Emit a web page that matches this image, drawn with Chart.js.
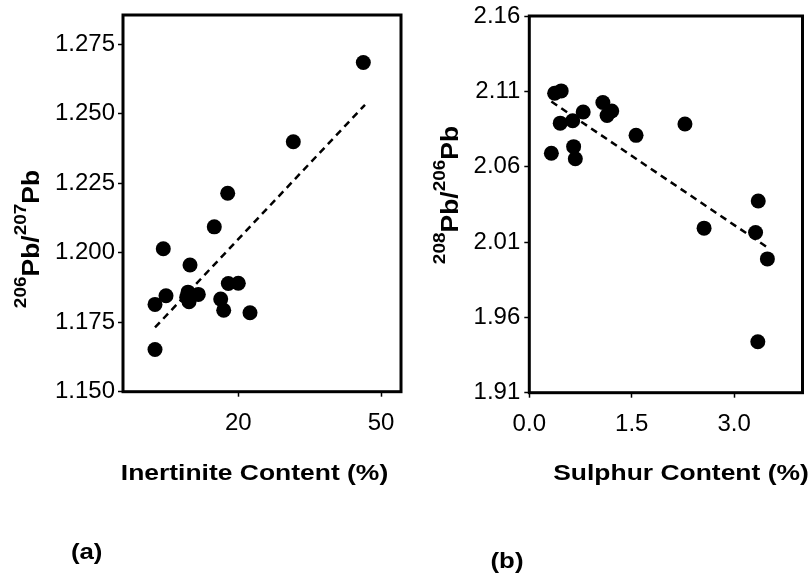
<!DOCTYPE html>
<html>
<head>
<meta charset="utf-8">
<script src="https://cdn.jsdelivr.net/npm/chart.js@4.4.1/dist/chart.umd.min.js"></script>
<style>
  html, body { margin: 0; padding: 0; background: #fff; }
  #wrap { position: relative; width: 810px; height: 574px; overflow: hidden; }
  canvas { position: absolute; top: 0; }
  #cA { left: 0; }
  #cB { left: 430px; }
</style>
</head>
<body>
<div id="wrap">
  <canvas id="cA" width="430" height="574"></canvas>
  <canvas id="cB" width="380" height="574"></canvas>
</div>
<script>
// ---------- DATA ----------
// (a) Inertinite content (%) vs 206Pb/207Pb
const inertinite = [46.28, 31.56, 17.77, 14.95, 4.23, 9.85, 17.90, 20.00, 4.80, 2.49, 9.43, 11.59, 9.15, 9.64, 16.30, 16.93, 22.46, 2.49];
const pb206_207  = [1.2684, 1.2399, 1.2214, 1.2093, 1.2014, 1.1956, 1.1889, 1.1890, 1.1845, 1.1814, 1.1858, 1.1850, 1.1840, 1.1824, 1.1833, 1.1793, 1.1784, 1.1652];
const trendA_x = [2.49, 46.63];
const trendA_y = [1.1731, 1.2532];

// (b) Sulphur content (%) vs 208Pb/206Pb
const sulphur   = [0.371, 0.467, 0.453, 0.635, 0.789, 1.077, 1.139, 1.207, 0.323, 0.649, 0.674, 1.563, 2.279, 2.559, 3.352, 3.313, 3.486, 3.346];
const pb208_206 = [2.1087, 2.1103, 2.0889, 2.0905, 2.0963, 2.1026, 2.0940, 2.0970, 2.0689, 2.0733, 2.0653, 2.0808, 2.0883, 2.0192, 2.0372, 2.0163, 1.9988, 1.9438];
const trendB_x = [0.323, 3.519];
const trendB_y = [2.1032, 2.0054];

// tick values
const ticksAx = [20, 50];
const ticksAy = [1.150, 1.175, 1.200, 1.225, 1.250, 1.275];
const ticksBx = [0.0, 1.5, 3.0];
const ticksBy = [1.91, 1.96, 2.01, 2.06, 2.11, 2.16];

// text
const titleAx = 'Inertinite Content (%)';
const titleBx = 'Sulphur Content (%)';
const titleAy = [{t:'206', sup:true}, {t:'Pb/'}, {t:'207', sup:true}, {t:'Pb'}];
const titleBy = [{t:'208', sup:true}, {t:'Pb/'}, {t:'206', sup:true}, {t:'Pb'}];
const panelA = '(a)';
const panelB = '(b)';

// ---------- PLUGINS ----------
const FAMILY = "'Liberation Sans', Arial, Helvetica, sans-serif";

const framePlugin = {
  id: 'frame',
  afterDatasetsDraw(chart) {
    const {ctx, chartArea: a} = chart;
    ctx.save();
    ctx.strokeStyle = '#000';
    ctx.lineWidth = 3;
    ctx.strokeRect(a.left, a.top, a.right - a.left, a.bottom - a.top);
    ctx.restore();
  }
};

const textPlugin = {
  id: 'figText',
  afterDraw(chart, args, opts) {
    const ctx = chart.ctx;
    (opts.items || []).forEach(it => {
      ctx.save();
      ctx.fillStyle = '#000';
      ctx.textBaseline = 'alphabetic';
      ctx.textAlign = 'left';
      ctx.translate(it.x, it.y);
      if (it.rotate) ctx.rotate(it.rotate);
      ctx.scale(it.stretch || 1, 1);
      const segs = it.segments.map(s => {
        ctx.font = 'bold ' + (s.sup ? it.supSize : it.size) + 'px ' + FAMILY;
        return {t: s.t, sup: !!s.sup, w: ctx.measureText(s.t).width};
      });
      const total = segs.reduce((acc, s) => acc + s.w, 0);
      let x = -total / 2;
      segs.forEach(s => {
        ctx.font = 'bold ' + (s.sup ? it.supSize : it.size) + 'px ' + FAMILY;
        ctx.fillText(s.t, x, s.sup ? -it.rise : 0);
        x += s.w;
      });
      ctx.restore();
    });
  }
};

// ---------- HELPERS ----------
const tickFont = {family: FAMILY, size: 24, lineHeight: 1};

function xScale(min, max, tickVals, decimals, height) {
  return {
    type: 'linear', position: 'bottom', min, max,
    afterBuildTicks: s => { s.ticks = tickVals.map(v => ({value: v})); },
    afterFit: s => { s.height = height; },
    grid: { display: true, drawOnChartArea: false, drawTicks: true, tickLength: 5, tickWidth: 1.5, tickColor: '#000' },
    border: { display: false },
    ticks: { color: '#000', font: tickFont, padding: 15, maxRotation: 0, autoSkip: false,
             callback: v => Number(v).toFixed(decimals) }
  };
}
function yScale(min, max, tickVals, decimals, width, pad) {
  return {
    type: 'linear', position: 'left', min, max,
    afterBuildTicks: s => { s.ticks = tickVals.map(v => ({value: v})); },
    afterFit: s => { s.width = width; },
    grid: { display: true, drawOnChartArea: false, drawTicks: true, tickLength: 5, tickWidth: 1.5, tickColor: '#000' },
    border: { display: false },
    ticks: { color: '#000', font: tickFont, padding: pad, autoSkip: false,
             callback: v => Number(v).toFixed(decimals) }
  };
}
function pts(xs, ys) { return xs.map((x, i) => ({x, y: ys[i]})); }

function makeChart(id, cfg) {
  return new Chart(document.getElementById(id), {
    type: 'scatter',
    data: {
      datasets: [
        { data: pts(cfg.px, cfg.py), backgroundColor: '#000', borderWidth: 0, pointRadius: 7.5, pointHoverRadius: 7.5 },
        { type: 'line', data: pts(cfg.tx, cfg.ty), borderColor: '#000', borderWidth: 2.5, borderDash: [7, 5],
          pointRadius: 0, fill: false, tension: 0 }
      ]
    },
    options: {
      responsive: false, animation: false, events: [],
      layout: { padding: cfg.padding },
      scales: { x: cfg.x, y: cfg.y },
      plugins: { legend: {display: false}, tooltip: {enabled: false}, title: {display: false},
                 figText: { items: cfg.texts } }
    },
    plugins: [framePlugin, textPlugin]
  });
}

// ---------- CHART (a) ----------
makeChart('cA', {
  px: inertinite, py: pb206_207, tx: trendA_x, ty: trendA_y,
  padding: {top: 14, right: 29, bottom: 0, left: 0},
  x: xScale(-4.24, 54.2, ticksAx, 0, 182.3),
  y: yScale(1.150, 1.2855, ticksAy, 3, 123, 3),
  texts: [
    { segments: titleAy, x: 39, y: 239, rotate: -Math.PI / 2, size: 23, supSize: 16.5, rise: 13, stretch: 1.15 },
    { segments: [{t: titleAx}], x: 254.5, y: 479.5, size: 21.5, stretch: 1.23 },
    { segments: [{t: panelA}], x: 86.7, y: 558.5, size: 21.5, stretch: 1.2 }
  ]
});

// ---------- CHART (b) ----------
makeChart('cB', {
  px: sulphur, py: pb208_206, tx: trendB_x, ty: trendB_y,
  padding: {top: 14, right: 3.3, bottom: 0, left: 0},
  x: xScale(0, 4.0, ticksBx, 1, 181.3),
  y: yScale(1.91, 2.16, ticksBy, 2, 99.3, 4),
  texts: [
    { segments: titleBy, x: 28, y: 195, rotate: -Math.PI / 2, size: 23, supSize: 16.5, rise: 13, stretch: 1.15 },
    { segments: [{t: titleBx}], x: 251, y: 479.5, size: 21.5, stretch: 1.23 },
    { segments: [{t: panelB}], x: 77, y: 568, size: 21.5, stretch: 1.2 }
  ]
});
</script>
</body>
</html>
